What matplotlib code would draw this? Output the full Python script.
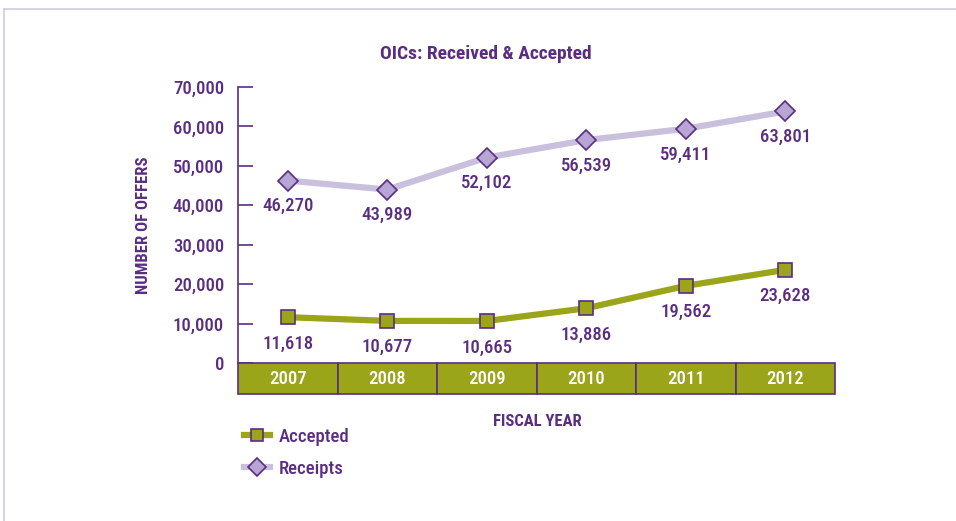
import matplotlib
matplotlib.use("Agg")
import matplotlib.pyplot as plt
from matplotlib.patches import Rectangle
from matplotlib.lines import Line2D
from matplotlib.transforms import blended_transform_factory
from matplotlib import font_manager

years = ["2007", "2008", "2009", "2010", "2011", "2012"]
accepted = [11618, 10677, 10665, 13886, 19562, 23628]
receipts = [46270, 43989, 52102, 56539, 59411, 63801]
yticks = [0, 10000, 20000, 30000, 40000, 50000, 60000, 70000]

PURPLE = "#5A2D82"
OLIVE = "#9BA51A"
LAV_LINE = "#C9C0DD"
LAV_FACE = "#B7A5D3"

names = {f.name for f in font_manager.fontManager.ttflist}
fam = [n for n in ["Liberation Sans Narrow", "Roboto Condensed", "DejaVu Sans Condensed"] if n in names]
plt.rcParams['font.family'] = fam + ['DejaVu Sans']
plt.rcParams['font.stretch'] = 'condensed'
MW = "medium"

fig = plt.figure(figsize=(9.56, 5.21), dpi=100)
W, H = 956, 521
ax = fig.add_axes([238 / W, 1 - 363 / H, (835 - 238) / W, (363 - 87) / H])

x = list(range(len(years)))
ax.set_xlim(-0.5, len(years) - 0.5)
ax.set_ylim(0, 70000)

ax.plot(x, receipts, color=LAV_LINE, lw=4.5, marker="D", ms=10, mfc=LAV_FACE,
        mec=PURPLE, mew=1.2, zorder=3, clip_on=False)
ax.plot(x, accepted, color=OLIVE, lw=4.5, marker="s", ms=10, mfc=OLIVE,
        mec=PURPLE, mew=1.2, zorder=3, clip_on=False)

for xi, v in zip(x, receipts):
    ax.annotate(f"{v:,}", (xi, v), xytext=(0, -18.5), textcoords="offset points",
                ha="center", va="center", color=PURPLE, fontsize=13.5, fontweight=MW)
for xi, v in zip(x, accepted):
    ax.annotate(f"{v:,}", (xi, v), xytext=(0, -19), textcoords="offset points",
                ha="center", va="center", color=PURPLE, fontsize=13.5, fontweight=MW)

for s in ["top", "right", "bottom"]:
    ax.spines[s].set_visible(False)
ax.spines["left"].set_color(PURPLE)
ax.spines["left"].set_linewidth(1.2)
ax.set_yticks(yticks)
ax.set_yticklabels([f"{t:,}" for t in yticks], fontweight=MW)
ax.tick_params(axis="y", direction="in", length=11, width=1.2, color=PURPLE,
               labelcolor=PURPLE, labelsize=13.5, pad=10)
ax.set_xticks([])

# year band
band_h = 31 / (363 - 87)
trans = blended_transform_factory(ax.transData, ax.transAxes)
for xi, yr in zip(x, years):
    ax.add_patch(Rectangle((xi - 0.5, -band_h), 1, band_h, transform=trans,
                           facecolor=OLIVE, edgecolor=PURPLE, lw=1.2, clip_on=False, zorder=2))
    ax.text(xi, -band_h / 2, yr, transform=trans, ha="center", va="center",
            color="white", fontsize=13.5, fontweight=MW, zorder=4)

ax.set_ylabel("NUMBER OF OFFERS", color=PURPLE, fontsize=12, fontweight="bold", labelpad=16)

fig.text(486 / W, 1 - 54 / H, "OICs: Received & Accepted", ha="center", va="center",
         color=PURPLE, fontsize=14, fontweight="bold")
fig.text(537 / W, 1 - 421 / H, "FISCAL YEAR", ha="center", va="center",
         color=PURPLE, fontsize=12, fontweight="bold")

# legend
h1 = Line2D([], [], color=OLIVE, lw=4.5, marker="s", ms=9, mfc=OLIVE, mec=PURPLE, mew=1.2)
h2 = Line2D([], [], color=LAV_LINE, lw=4.5, marker="D", ms=9, mfc=LAV_FACE, mec=PURPLE, mew=1.2)
leg = fig.legend([h1, h2], ["Accepted", "Receipts"], loc="upper left",
                 bbox_to_anchor=(227 / W, 1 - 411 / H), frameon=False,
                 prop={"size": 13.5, "weight": MW},
                 handlelength=1.4, labelspacing=0.75, handletextpad=0.45)
for t in leg.get_texts():
    t.set_color(PURPLE)

# faint outer frame
fig.add_artist(Line2D([4 / W, 1], [1 - 9 / H, 1 - 9 / H], color="#CFCBE0", lw=1.2))
fig.add_artist(Line2D([4 / W, 4 / W], [0, 1 - 9 / H], color="#CFCBE0", lw=1.2))

fig.savefig("out.png", dpi=100)
